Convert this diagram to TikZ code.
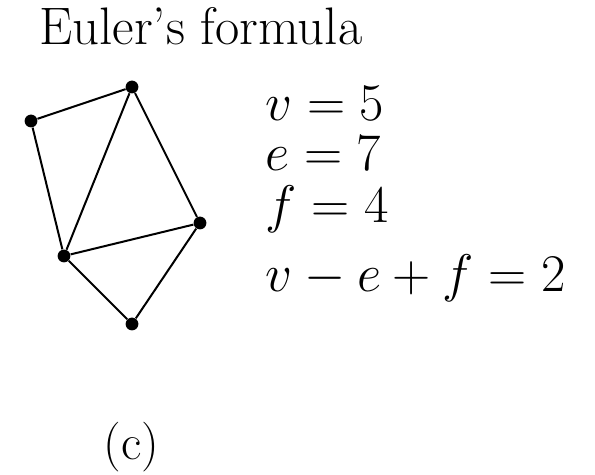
\documentclass[tikz,border=0pt]{standalone}
\begin{document}
\begin{tikzpicture}[x=0.5pt,y=-0.5pt,
  vtx/.style={circle,fill=black,inner sep=0pt,minimum size=6.4pt},
  edge/.style={line width=1pt,black},
  bigtext/.style={inner sep=0pt,anchor=base west,font=\fontsize{26.4}{30}\selectfont},
  mathtext/.style={inner sep=0pt,anchor=base west,font=\fontsize{24.88}{30}\selectfont},
  captext/.style={inner sep=0pt,anchor=base west,font=\fontsize{24.88}{30}\selectfont}]
\newcommand{\eqscale}[1]{\scalebox{1.064}{#1}}
\useasboundingbox (0,0) rectangle (595,475);
\node[bigtext] (title) at (39,45) {Euler's formula};
\node[vtx] (a) at (31,121) {};
\node[vtx] (b) at (132,87) {};
\node[vtx] (c) at (200,223) {};
\node[vtx] (d) at (64,256) {};
\node[vtx] (e) at (132,324) {};
\draw[edge] (a) -- (b);
\draw[edge] (a) -- (d);
\draw[edge] (b) -- (d);
\draw[edge] (b) -- (c);
\draw[edge] (c) -- (d);
\draw[edge] (d) -- (e);
\draw[edge] (c) -- (e);
\node[mathtext] (l1) at (265,121) {\eqscale{$v=5$}};
\node[mathtext] (l2) at (265,171) {\eqscale{$e=7$}};
\node[mathtext] (l3) at (265,223) {\eqscale{$f=4$}};
\node[mathtext] (l4) at (265,292) {\eqscale{$v-e+f=2$}};
\node[captext] (cap) at (103,460) {(c)};
\end{tikzpicture}
\end{document}
